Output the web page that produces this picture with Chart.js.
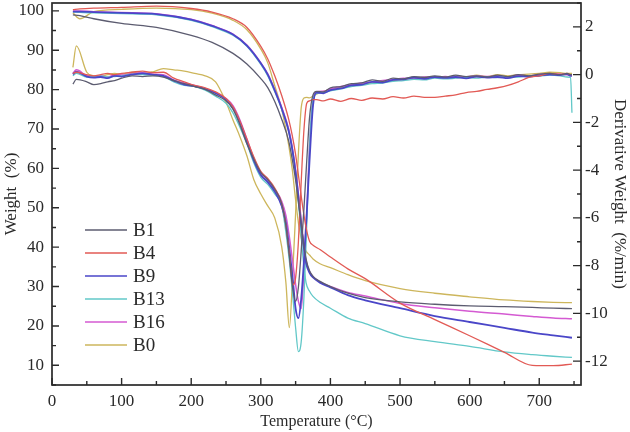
<!DOCTYPE html>
<html><head><meta charset="utf-8">
<script src="https://cdn.jsdelivr.net/npm/chart.js@4.4.1/dist/chart.umd.min.js"></script>
<style>html,body{margin:0;padding:0;background:#fff}#wrap{width:630px;height:432px}</style>
</head><body><div id="wrap"><canvas id="c" width="630" height="432"></canvas></div>
<script>
// ---- data ----
const seriesNames = ['B1', 'B4', 'B9', 'B13', 'B16', 'B0'];

// weight (TG) curves, left axis
const tempTG = [30, 40, 60, 100, 150, 200, 230, 260, 280, 300, 310, 320, 330, 340, 345, 350, 355, 360, 365, 370, 375, 385, 400, 425, 450, 500, 550, 600, 650, 690, 720, 747];
const tgB1  = [99.0, 98.8, 98.0, 96.8, 95.8, 93.8, 92.0, 89.2, 86.5, 82.8, 80.5, 77.0, 72.5, 67.0, 62.5, 57.0, 50.0, 43.0, 37.0, 34.0, 32.6, 31.3, 30.0, 28.3, 27.2, 26.1, 25.5, 25.1, 24.9, 24.7, 24.5, 24.4];
const tgB4  = [100.3, 100.5, 100.7, 100.9, 101.2, 100.6, 99.7, 98.0, 95.8, 91.0, 87.8, 83.5, 78.5, 72.5, 68.5, 63.5, 57.0, 50.5, 45.0, 41.5, 40.5, 39.4, 37.5, 34.5, 32.0, 25.8, 21.6, 17.5, 13.3, 10.0, 9.9, 10.3];
const tgB9  = [99.8, 99.8, 99.7, 99.5, 99.2, 97.8, 96.2, 94.0, 91.2, 86.7, 83.8, 79.8, 75.2, 69.5, 65.0, 59.0, 51.0, 42.5, 36.0, 33.5, 32.3, 31.0, 29.8, 27.8, 26.5, 24.5, 22.5, 21.0, 19.5, 18.3, 17.6, 17.0];
const tgB13 = [99.7, 99.6, 99.5, 99.3, 99.0, 97.6, 96.0, 93.8, 91.0, 86.4, 83.5, 79.5, 75.0, 69.5, 65.0, 58.5, 49.5, 38.5, 31.0, 28.8, 27.5, 26.0, 24.5, 22.0, 20.6, 17.5, 16.0, 14.8, 13.4, 12.7, 12.3, 12.0];
const tgB16 = [100.0, 100.0, 99.8, 99.6, 99.3, 97.9, 96.3, 94.1, 91.3, 86.8, 84.0, 80.0, 75.5, 70.0, 65.5, 59.5, 52.0, 43.5, 36.5, 33.8, 32.5, 31.2, 30.0, 28.5, 27.6, 25.7, 24.6, 23.7, 23.0, 22.4, 22.0, 21.8];
const tgB0  = [99.5, 98.0, 99.8, 100.4, 100.7, 100.3, 99.4, 97.6, 95.2, 90.3, 86.8, 81.0, 75.0, 66.0, 60.0, 52.0, 45.0, 41.0, 39.0, 38.0, 37.0, 35.8, 34.8, 33.0, 31.5, 29.5, 28.3, 27.4, 26.6, 26.2, 26.0, 25.9];

// derivative weight (DTG) curves, right axis
const tempDTG = [30, 35, 50, 60, 70, 80, 90, 100,
  115, 130, 145, 160, 175, 190, 205, 220, 235, 250,
  260, 270, 280, 290, 300, 310, 320, 330,
  336, 341, 346, 350, 354, 358, 362, 366, 370, 375, 380,
  390, 400, 415, 430, 445, 460, 475, 490, 505, 520, 535, 550, 565, 580, 595, 610, 625, 640, 655, 670, 685, 700, 715, 730, 740, 745, 747];
const dtgB1 = [-0.4, -0.2, -0.3, -0.42, -0.38, -0.3, -0.25, -0.15,
  -0.05, -0.08, -0.05, -0.1, -0.25, -0.38, -0.5, -0.62, -0.85, -1.1,
  -1.45, -2.1, -2.9, -3.55, -4.1, -4.4, -4.8, -5.4,
  -6.3, -7.6, -9.0, -9.5, -8.9, -7.4, -5.6, -3.6, -1.8, -0.85, -0.7,
  -0.72, -0.55, -0.5, -0.38, -0.35, -0.22, -0.28, -0.15, -0.18, -0.08, -0.12, -0.05, -0.1, -0.02, -0.08, -0.05, -0.1, -0.02, -0.08, 0.0, -0.05, 0.02, 0.05, 0.0, 0.05, 0.0, 0.0];
const dtgB4 = [0.05, 0.1, 0.0, -0.05, 0.0, 0.05, 0.0, 0.05,
  0.1, 0.15, 0.08, 0.1, -0.15, -0.3, -0.45, -0.55, -0.72, -1.0,
  -1.35, -1.95, -2.7, -3.45, -4.05, -4.35, -4.75, -5.4,
  -6.3, -7.5, -8.8, -8.5, -7.0, -4.5, -2.3, -1.2, -1.1, -1.05, -1.05,
  -1.1, -1.02, -1.12, -1.0, -1.08, -0.98, -1.02, -0.92, -0.98, -0.9, -0.95, -0.95, -0.9, -0.85, -0.75, -0.7, -0.62, -0.55, -0.45, -0.3, -0.12, -0.05, 0.05, 0.02, 0.05, 0.0, 0.0];
const dtgB9 = [0.02, 0.12, -0.08, -0.12, -0.1, -0.15, -0.05, -0.08,
  0.0, 0.05, 0.0, -0.05, -0.25, -0.42, -0.48, -0.6, -0.78, -1.05,
  -1.4, -2.0, -2.8, -3.6, -4.2, -4.5, -4.9, -5.5,
  -6.2, -7.3, -8.6, -9.8, -10.2, -9.4, -7.8, -5.8, -3.6, -1.3, -0.75,
  -0.78, -0.65, -0.58, -0.45, -0.42, -0.3, -0.33, -0.22, -0.2, -0.12, -0.18, -0.1, -0.14, -0.1, -0.16, -0.08, -0.12, -0.1, -0.15, -0.06, -0.08, -0.04, 0.0, -0.02, 0.02, -0.05, -0.05];
const dtgB13 = [-0.05, 0.05, -0.1, -0.08, -0.05, -0.1, -0.08, -0.05,
  0.02, 0.0, -0.02, -0.08, -0.3, -0.45, -0.5, -0.65, -0.9, -1.2,
  -1.6, -2.2, -2.9, -3.7, -4.3, -4.6, -5.0, -5.5,
  -6.6, -7.8, -9.3, -10.6, -11.6, -11.2, -9.3, -6.3, -3.0, -1.05, -0.8,
  -0.75, -0.68, -0.6, -0.5, -0.45, -0.38, -0.35, -0.28, -0.25, -0.2, -0.22, -0.15, -0.18, -0.15, -0.12, -0.15, -0.1, -0.12, -0.08, -0.1, -0.05, -0.06, -0.02, -0.05, -0.1, -0.12, -1.6];
const dtgB16 = [0.05, 0.2, -0.05, -0.1, -0.05, -0.1, 0.0, -0.02,
  0.05, 0.08, 0.02, 0.0, -0.22, -0.35, -0.45, -0.58, -0.75, -1.0,
  -1.3, -1.9, -2.7, -3.5, -4.1, -4.4, -4.8, -5.3,
  -5.9, -6.8, -7.9, -8.8, -9.5, -9.8, -8.2, -5.8, -3.0, -1.1, -0.72,
  -0.7, -0.6, -0.5, -0.42, -0.35, -0.3, -0.25, -0.2, -0.15, -0.18, -0.1, -0.12, -0.08, -0.12, -0.1, -0.06, -0.08, -0.05, -0.1, -0.02, -0.06, 0.0, 0.04, 0.02, 0.0, 0.0, 0.0];
const dtgB0 = [0.3, 1.2, 0.1, -0.05, -0.08, 0.0, 0.05, 0.02,
  0.1, 0.05, 0.12, 0.25, 0.2, 0.15, 0.05, -0.05, -0.3, -1.15,
  -1.9, -2.6, -3.4, -4.4, -5.0, -5.5, -6.0, -7.2,
  -8.7, -10.6, -8.2, -5.8, -3.3, -1.4, -0.98, -0.95, -0.97, -0.9, -0.82,
  -0.7, -0.62, -0.55, -0.48, -0.38, -0.35, -0.28, -0.25, -0.2, -0.15, -0.12, -0.08, -0.12, -0.05, -0.1, -0.02, -0.08, 0.0, -0.05, 0.0, 0.02, 0.05, 0.1, 0.08, 0.05, 0.05, 0.05];

// tick labels
const xTicks = [0, 100, 200, 300, 400, 500, 600, 700];
const yTicks = [10, 20, 30, 40, 50, 60, 70, 80, 90, 100];
const y1Ticks = [-12, -10, -8, -6, -4, -2, 0, 2];

// ---- styling ----
const colors = ['#5c5c70', '#e25a55', '#4a46c8', '#62c8c8', '#d45ad2', '#cdb65c'];
const widths = [1.3, 1.3, 1.8, 1.3, 1.5, 1.3];
const tgSeries = [tgB1, tgB4, tgB9, tgB13, tgB16, tgB0];
const dtgSeries = [dtgB1, dtgB4, dtgB9, dtgB13, dtgB16, dtgB0];
const pts = (ts, vs) => ts.map((t, i) => ({x: t, y: vs[i]}));

const datasets = [];
seriesNames.forEach((name, i) => {
  datasets.push({label: name, inLegend: true, yAxisID: 'y', data: pts(tempTG, tgSeries[i]),
    borderColor: colors[i], borderWidth: widths[i], pointRadius: 0, cubicInterpolationMode: 'monotone', fill: false});
  datasets.push({label: name + ' DTG', inLegend: false, yAxisID: 'y1', data: pts(tempDTG, dtgSeries[i]),
    borderColor: colors[i], borderWidth: widths[i], pointRadius: 0, cubicInterpolationMode: 'monotone', fill: false});
});

const FONT = "'Liberation Serif', 'Times New Roman', serif";
const INK = '#2a2a2a';

const zeroPad = s => { s.paddingTop = 0; s.paddingBottom = 0; s.paddingLeft = 0; s.paddingRight = 0; };

const framePlugin = {
  id: 'frame',
  afterDatasetsDraw(chart) {
    const {ctx, chartArea: a, scales} = chart;
    ctx.save();
    ctx.strokeStyle = INK;
    ctx.lineWidth = 1.7;
    ctx.strokeRect(a.left, a.top, a.right - a.left, a.bottom - a.top);
    ctx.lineWidth = 1.4;
    ctx.beginPath();
    xTicks.forEach(v => {
      let p = scales.x.getPixelForValue(v);
      ctx.moveTo(p, a.bottom); ctx.lineTo(p, a.bottom - 7);
      p = scales.x.getPixelForValue(v + 50);
      ctx.moveTo(p, a.bottom); ctx.lineTo(p, a.bottom - 4);
    });
    yTicks.forEach(v => {
      let p = scales.y.getPixelForValue(v);
      ctx.moveTo(a.left, p); ctx.lineTo(a.left + 7, p);
      p = scales.y.getPixelForValue(v - 5);
      ctx.moveTo(a.left, p); ctx.lineTo(a.left + 4, p);
    });
    y1Ticks.forEach(v => {
      let p = scales.y1.getPixelForValue(v);
      ctx.moveTo(a.right, p); ctx.lineTo(a.right - 8, p);
      p = scales.y1.getPixelForValue(v + 1);
      ctx.moveTo(a.right, p); ctx.lineTo(a.right - 4, p);
    });
    ctx.stroke();
    const items = chart.data.datasets.filter(d => d.inLegend);
    ctx.font = "19px " + FONT;
    ctx.textBaseline = 'middle';
    ctx.fillStyle = INK;
    items.forEach((d, i) => {
      const yy = 230 + i * 23;
      ctx.strokeStyle = d.borderColor;
      ctx.lineWidth = 1.5;
      ctx.beginPath(); ctx.moveTo(85, yy); ctx.lineTo(127, yy); ctx.stroke();
      ctx.fillText(d.label, 133, yy + 1);
    });
    ctx.restore();
  }
};

new Chart(document.getElementById('c'), {
  type: 'line',
  data: {datasets},
  options: {
    responsive: false,
    animation: false,
    devicePixelRatio: 1,
    layout: {padding: {top: 3, left: 0, right: 0, bottom: 0}},
    plugins: {legend: {display: false}, tooltip: {enabled: false}},
    scales: {
      x: {
        type: 'linear', min: 0, max: 760,
        afterBuildTicks: s => { s.ticks = xTicks.map(v => ({value: v})); },
        afterFit: s => { s.height = 47; zeroPad(s); },
        grid: {display: false, drawTicks: false},
        border: {display: false},
        ticks: {color: INK, padding: 6, maxRotation: 0, font: {family: FONT, size: 17}},
        title: {display: true, text: 'Temperature (°C)', color: INK, padding: {top: 0, bottom: 1}, font: {family: FONT, size: 16}}
      },
      y: {
        type: 'linear', position: 'left', min: 5, max: 102,
        afterBuildTicks: s => { s.ticks = yTicks.map(v => ({value: v})); },
        afterFit: s => { s.width = 52; zeroPad(s); },
        grid: {display: false, drawTicks: false},
        border: {display: false},
        ticks: {color: INK, padding: 8, font: {family: FONT, size: 17}},
        title: {display: true, text: 'Weight  (%)', color: INK, padding: {top: 1, bottom: 0}, font: {family: FONT, size: 17}}
      },
      y1: {
        type: 'linear', position: 'right', min: -13, max: 3,
        afterBuildTicks: s => { s.ticks = y1Ticks.map(v => ({value: v})); },
        afterFit: s => { s.width = 49; zeroPad(s); },
        grid: {display: false, drawTicks: false},
        border: {display: false},
        ticks: {color: INK, padding: 4, font: {family: FONT, size: 17}},
        title: {display: true, text: 'Derivative Weight  (%/min)', color: INK, padding: {top: 0, bottom: 0}, font: {family: FONT, size: 17}}
      }
    }
  },
  plugins: [framePlugin]
});
</script>
</body></html>
